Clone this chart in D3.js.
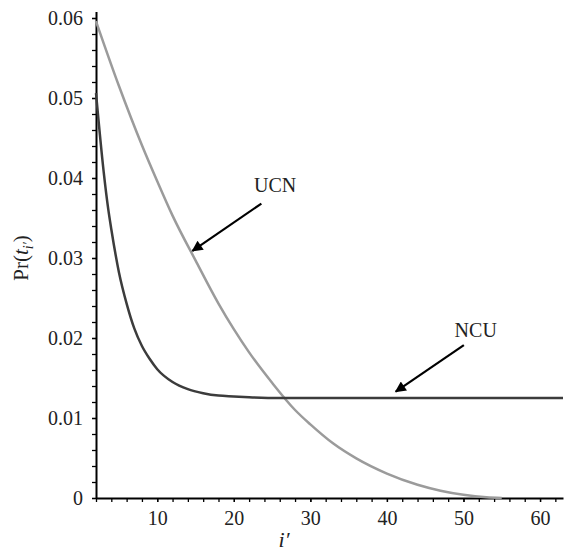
<!DOCTYPE html>
<html>
<head>
<meta charset="utf-8">
<script src="https://cdn.jsdelivr.net/npm/d3@7"></script>
<style>
    body { margin: 0; background: #fff; }
    svg text { font-family: "Liberation Serif", "Times New Roman", serif; fill: #222; }
</style>
</head>
<body>
<div id="chart"></div>
<script>
// values
const ncuI = [2, 3, 3.6, 4, 5, 6, 7, 8, 9, 10, 12, 14, 16, 18, 20, 22, 26, 30, 40, 50, 63];
const ncuP = [0.0506, 0.0408, 0.0361, 0.0336, 0.0282, 0.0243, 0.0212, 0.0190, 0.0174, 0.0161, 0.0145, 0.0136, 0.0131, 0.0128, 0.0127, 0.0126, 0.0125, 0.0125, 0.0125, 0.0125, 0.0125];

const ucnI = [2, 5, 8, 10, 12, 15, 18, 20, 22, 25, 28, 30, 33, 36, 40, 44, 47, 50, 53, 55];
const ucnP = [0.0596, 0.0515, 0.0441, 0.0396, 0.0353, 0.0297, 0.0243, 0.0211, 0.0182, 0.0144, 0.0110, 0.0092, 0.0068, 0.00495, 0.00305, 0.00165, 0.00091, 0.0004, 0.00009, 0.0];

const xTicks = [10, 20, 30, 40, 50, 60];
const yTicks = [0, 0.01, 0.02, 0.03, 0.04, 0.05, 0.06];

const labels = [
    { text: "UCN", x: 25.4, y: 0.0383, fromX: 23.6, fromY: 0.0368, toX: 14.6, toY: 0.0309 },
    { text: "NCU", x: 51.6, y: 0.0201, fromX: 50.05, fromY: 0.0191, toX: 41.15, toY: 0.0133 },
];

const width = 564;
const height = 552;
const serif = "'Liberation Serif', 'Times New Roman', serif";

const svg = d3.select("#chart")
    .append("svg")
    .attr("width", width)
    .attr("height", height);

const xScale = d3.scaleLinear().domain([2, 63]).range([96, 563]);
const yScale = d3.scaleLinear().domain([0, 0.0608]).range([498, 11.6]);

svg.append("defs").append("marker")
    .attr("id", "arrow")
    .attr("viewBox", "0 0 10 10")
    .attr("refX", 9)
    .attr("refY", 5)
    .attr("markerWidth", 6)
    .attr("markerHeight", 5)
    .attr("markerUnits", "strokeWidth")
    .attr("orient", "auto")
    .append("path")
    .attr("d", "M0,0 L10,5 L0,10 z")
    .attr("fill", "#000");

// minor ticks
const xMinor = d3.range(2, 64, 2);
const yMinor = d3.range(0, 0.0601, 0.002);

svg.append("g")
    .attr("transform", "translate(0,498)")
    .call(d3.axisBottom(xScale).tickValues(xMinor).tickFormat("").tickSize(4).tickSizeOuter(0))
    .call((g) => g.select(".domain").remove())
    .selectAll("line").attr("stroke", "#000").attr("stroke-width", 1.3);

svg.append("g")
    .attr("transform", "translate(96,0)")
    .call(d3.axisLeft(yScale).tickValues(yMinor).tickFormat("").tickSize(4).tickSizeOuter(0))
    .call((g) => g.select(".domain").remove())
    .selectAll("line").attr("stroke", "#000").attr("stroke-width", 1.3);

// main axes
const xAxis = svg.append("g")
    .attr("transform", "translate(0,498)")
    .call(d3.axisBottom(xScale).tickValues(xTicks).tickSize(4).tickSizeOuter(0).tickPadding(9));

const yAxis = svg.append("g")
    .attr("transform", "translate(96,0)")
    .call(d3.axisLeft(yScale).tickValues(yTicks).tickSize(4).tickSizeOuter(0).tickPadding(9)
        .tickFormat((d) => (d === 0 ? "0" : d3.format(".2f")(d))));

[xAxis, yAxis].forEach((g) => {
    g.attr("font-family", null).attr("font-size", null);
    g.select(".domain").attr("stroke", "#000").attr("stroke-width", 2);
    g.selectAll(".tick line").attr("stroke", "#000").attr("stroke-width", 1.3);
    g.selectAll(".tick text")
        .style("font-family", serif)
        .style("font-size", "20px")
        .style("fill", "#222");
});

// curves
const line = d3.line()
    .x((d) => xScale(d[0]))
    .y((d) => yScale(d[1]))
    .curve(d3.curveMonotoneX);

svg.append("path")
    .datum(d3.zip(ucnI, ucnP))
    .attr("d", line)
    .attr("fill", "none")
    .attr("stroke", "#9b9b9b")
    .attr("stroke-width", 2.5);

svg.append("path")
    .datum(d3.zip(ncuI, ncuP))
    .attr("d", line)
    .attr("fill", "none")
    .attr("stroke", "#3c3c3c")
    .attr("stroke-width", 2.5);

// annotations
labels.forEach((d) => {
    svg.append("text")
        .attr("x", xScale(d.x))
        .attr("y", yScale(d.y))
        .attr("text-anchor", "middle")
        .style("font-size", "20px")
        .text(d.text);

    svg.append("line")
        .attr("x1", xScale(d.fromX))
        .attr("y1", yScale(d.fromY))
        .attr("x2", xScale(d.toX))
        .attr("y2", yScale(d.toY))
        .attr("stroke", "#000")
        .attr("stroke-width", 2.2)
        .attr("marker-end", "url(#arrow)");
});

// axis titles
svg.append("text")
    .attr("x", 284)
    .attr("y", 547)
    .attr("text-anchor", "middle")
    .style("font-size", "22px")
    .style("font-style", "italic")
    .text("i′");

const yTitle = svg.append("text")
    .attr("transform", "translate(28,258) rotate(-90)")
    .attr("text-anchor", "middle")
    .style("font-size", "21px");
yTitle.append("tspan").text("Pr(");
yTitle.append("tspan").style("font-style", "italic").text("t");
yTitle.append("tspan").style("font-style", "italic").style("font-size", "14px").attr("dy", 5).text("i′");
yTitle.append("tspan").attr("dy", -5).text(")");
</script>
</body>
</html>
